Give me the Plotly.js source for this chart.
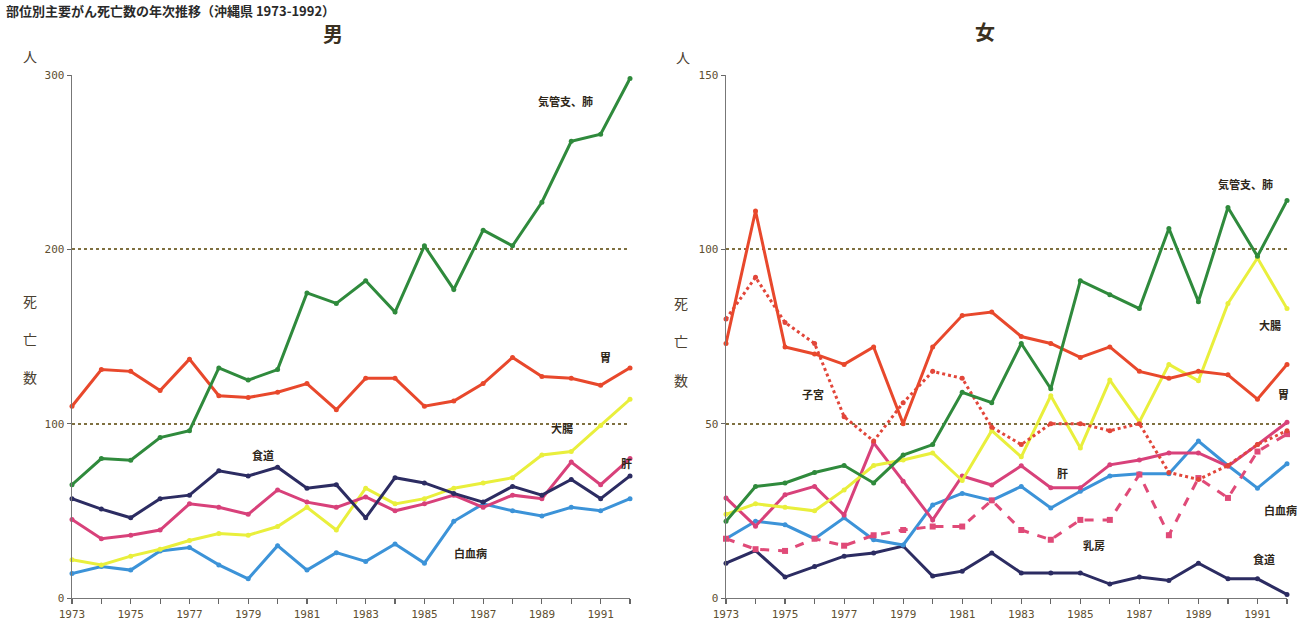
<!DOCTYPE html>
<html>
<head>
<meta charset="utf-8">
<script src="https://cdn.plot.ly/plotly-3.0.1.min.js"></script>
<style>
html,body{margin:0;padding:0;background:#fff;}
#chart{width:1313px;height:630px;}
</style>
</head>
<body>
<div id="chart"></div>
<script>
// ---------------- data ----------------
const years = [1973,1974,1975,1976,1977,1978,1979,1980,1981,1982,1983,1984,1985,1986,1987,1988,1989,1990,1991,1992];
const xTickLabels = ["1973","","1975","","1977","","1979","","1981","","1983","","1985","","1987","","1989","","1991",""];
const yTicksMale = [0,100,200,300];
const yTickLabelsMale = ["0","100","200","300"];
const yTicksFemale = [0,50,100,150];
const yTickLabelsFemale = ["0","50","100","150"];

// 男 (male)
const lungM    = [65,80,79,92,96,132,125,131,175,169,182,164,202,177,211,202,227,262,266,298];
const stomachM = [110,131,130,119,137,116,115,118,123,108,126,126,110,113,123,138,127,126,122,132];
const esophM   = [57,51,46,57,59,73,70,75,63,65,46,69,66,60,55,64,59,68,57,70];
const liverM   = [45,34,36,39,54,52,48,62,55,52,58,50,54,59,52,59,57,78,65,80];
const colonM   = [22,19,24,28,33,37,36,41,52,39,63,54,57,63,66,69,82,84,99,114];
const leukM    = [14,18,16,27,29,19,11,30,16,26,21,31,20,44,54,50,47,52,50,57];

// 女 (female)
const lungF    = [22,32,33,36,38,33,41,44,59,56,73,60,91,87,83,106,85,112,98,114];
const stomachF = [73,111,72,70,67,72,50,72,81,82,75,73,69,72,65,63,65,64,57,67];
const uterusF  = [80,92,79,73,52,45,56,65,63,49,44,50,50,48,50,36,34,38,44,48];
const breastF  = [17,14,13.5,17,15,18,19.5,20.5,20.5,28,19.5,16.7,22.4,22.4,35.4,18,34.4,28.7,42,47];
const liverF   = [28.7,20.6,29.6,32,23.8,44.5,33.5,22.4,35,32.4,37.9,31.6,31.6,38.2,39.6,41.6,41.6,37.8,44,50.4];
const colonF   = [24,27,26,25,31,38,39.6,41.6,33.7,48,40.5,58,43,62.5,50.5,67,62.3,84.5,97.5,83];
const leukF    = [17,22,21,17,23,16.7,15.2,26.7,30,28,32,25.8,30.6,35,35.6,35.6,45,38,31.5,38.5];
const esophF   = [10,13.6,6,9,12,12.9,14.9,6.3,7.7,12.9,7.2,7.2,7.2,4,6,5,10,5.5,5.5,1];

const mainTitle = "部位別主要がん死亡数の年次推移（沖縄県 1973-1992）";
const panelTitles = ["男","女"];
const seriesLabelsM = ["気管支、肺","胃","大腸","肝","食道","白血病"];
const seriesLabelsF = ["気管支、肺","大腸","胃","子宮","肝","白血病","乳房","食道"];

// ---------------- styling ----------------
const C = {
  lung:"#2f8a3c", stomach:"#e8482c", esoph:"#2c2c62", liver:"#d8417a",
  colon:"#e9ef3c", leuk:"#3c93d8", uterus:"#e2463a", breast:"#e04a78"
};
const W = 1313, H = 630, MT = 75, MB = 32;
const PH = H - MT - MB;
function px(x, y){ return {x: x / W, y: 1 - (y - MT) / PH}; }

function tr(y, color, xa, ya, dash, msize, msym){
  return {
    x: years, y: y, xaxis: xa, yaxis: ya, type: "scatter", mode: "lines+markers",
    line: {color: color, width: 3, dash: dash || "solid"},
    marker: {color: color, size: msize || 5, symbol: msym || "circle"},
    cliponaxis: false, hoverinfo: "x+y", showlegend: false
  };
}

const data = [
  tr(leukM, C.leuk, "x", "y"),
  tr(colonM, C.colon, "x", "y"),
  tr(liverM, C.liver, "x", "y"),
  tr(esophM, C.esoph, "x", "y"),
  tr(stomachM, C.stomach, "x", "y"),
  tr(lungM, C.lung, "x", "y"),

  tr(esophF, C.esoph, "x2", "y2"),
  tr(leukF, C.leuk, "x2", "y2"),
  tr(breastF, C.breast, "x2", "y2", "dash", 6, "square"),
  tr(liverF, C.liver, "x2", "y2"),
  tr(colonF, C.colon, "x2", "y2"),
  tr(uterusF, C.uterus, "x2", "y2", "dot"),
  tr(stomachF, C.stomach, "x2", "y2"),
  tr(lungF, C.lung, "x2", "y2")
];

const tickFont = {family: "DejaVu Sans Mono, monospace", size: 11, color: "#5e5032"};
function xAxis(domain, anchor){
  return {
    domain: domain, anchor: anchor, range: [1973, 1992],
    tickmode: "array", tickvals: years, ticktext: xTickLabels,
    ticks: "outside", ticklen: 5, tickcolor: "#666", tickwidth: 1.2,
    showline: true, linecolor: "#777", linewidth: 1.4,
    showgrid: false, zeroline: false, tickfont: tickFont, fixedrange: true
  };
}
function yAxis(rangeMax, tv, tt, anchor){
  return {
    domain: [0, 1], anchor: anchor, range: [0, rangeMax],
    tickmode: "array", tickvals: tv, ticktext: tt,
    ticks: "outside", ticklen: 4, tickcolor: "#666",
    showline: true, linecolor: "#777", linewidth: 1.4,
    showgrid: true, gridcolor: "#7f7040", gridwidth: 2, griddash: "dot",
    zeroline: false, tickfont: tickFont, fixedrange: true
  };
}

const labFont = {family: "Noto Sans CJK JP, sans-serif", size: 11, color: "#2e2618", weight: "bold"};
const axLabFont = {family: "Noto Sans CJK JP, sans-serif", size: 14, color: "#4a4030"};
const titleFont = {family: "Noto Sans CJK JP, sans-serif", size: 20, color: "#3a3020", weight: "bold"};

function ann(text, x, y, font, xanchor){
  const p = px(x, y);
  return {text: text, x: p.x, y: p.y, xref: "paper", yref: "paper",
          showarrow: false, font: font, xanchor: xanchor || "center", yanchor: "middle"};
}

const annotations = [
  ann(mainTitle, 4, 11, {family:"Noto Sans CJK JP, sans-serif", size: 13, color:"#2a2a2a", weight: "bold"}, "left"),
  ann(panelTitles[0], 333, 33, titleFont),
  ann(panelTitles[1], 985, 31, titleFont),
  ann("人", 30, 56, axLabFont),
  ann("死", 30, 301, axLabFont),
  ann("亡", 30, 339, axLabFont),
  ann("数", 30, 377, axLabFont),
  ann("人", 683, 57, axLabFont),
  ann("死", 681, 303, axLabFont),
  ann("亡", 681, 341, axLabFont),
  ann("数", 681, 380, axLabFont),
  // male series labels
  ann(seriesLabelsM[0], 565, 101, labFont),
  ann(seriesLabelsM[1], 605, 357, labFont),
  ann(seriesLabelsM[2], 562, 428, labFont),
  ann(seriesLabelsM[3], 626, 463, labFont),
  ann(seriesLabelsM[4], 263, 455, labFont),
  ann(seriesLabelsM[5], 470, 553, labFont),
  // female series labels
  ann(seriesLabelsF[0], 1245, 184, labFont),
  ann(seriesLabelsF[1], 1270, 325, labFont),
  ann(seriesLabelsF[2], 1283, 394, labFont),
  ann(seriesLabelsF[3], 813, 394, labFont),
  ann(seriesLabelsF[4], 1062, 473, labFont),
  ann(seriesLabelsF[5], 1280, 510, labFont),
  ann(seriesLabelsF[6], 1094, 545, labFont),
  ann(seriesLabelsF[7], 1264, 559, labFont)
];

const layout = {
  width: W, height: H,
  margin: {l: 0, r: 0, t: MT, b: MB, pad: 0},
  paper_bgcolor: "#ffffff", plot_bgcolor: "#ffffff",
  showlegend: false,
  xaxis: xAxis([72 / W, 630 / W], "y"),
  yaxis: yAxis(300, yTicksMale, yTickLabelsMale, "x"),
  xaxis2: xAxis([726 / W, 1287 / W], "y2"),
  yaxis2: yAxis(150, yTicksFemale, yTickLabelsFemale, "x2"),
  annotations: annotations
};

Plotly.newPlot("chart", data, layout, {displayModeBar: false, staticPlot: true});
</script>
</body>
</html>
